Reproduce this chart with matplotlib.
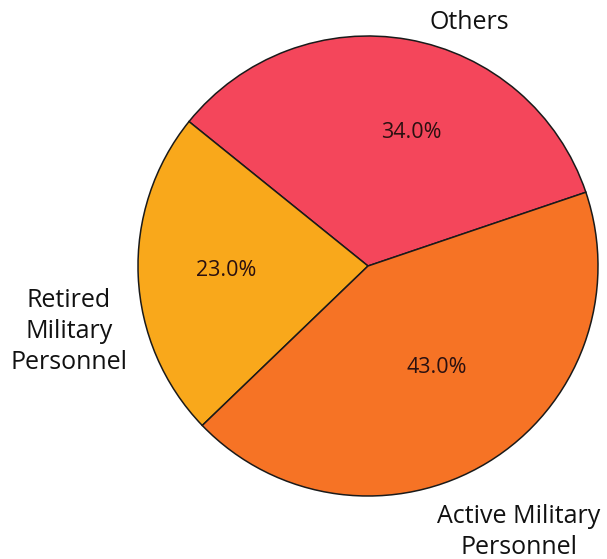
import matplotlib.pyplot as plt

labels = ["Others", "Retired\nMilitary\nPersonnel", "Active Military\nPersonnel"]
shares = [34.0, 23.0, 43.0]
colors = ["#F4465B", "#F9A81B", "#F67325"]

# where the outside labels and percentages sit (data units, radius = 1)
label_pos = [(0.44, 1.06), (-1.3, -0.285), (0.655, -1.157)]
pct_pos = [(0.19, 0.58), (-0.615, -0.02), (0.30, -0.44)]

plt.rcParams['font.family'] = ['Open Sans', 'DejaVu Sans']

fig = plt.figure(figsize=(6.07, 5.59), dpi=100)
# axes box covers exactly the circle: centre (368, 266) px, radius 230 px
ax = fig.add_axes([(368 - 230) / 607, (559 - 266 - 230) / 559, 460 / 607, 460 / 559])

wedges, texts, autotexts = ax.pie(shares, labels=labels, colors=colors, startangle=18.7,
                                  counterclock=True, autopct='%.1f%%',
                                  wedgeprops=dict(edgecolor='#1a1a1a', linewidth=1.1),
                                  textprops=dict(fontsize=18, color='#111111'))

for t, p in zip(texts, label_pos):
    t.set_position(p)
    t.set_ha('center')
    t.set_va('center')
    t.set_linespacing(1.32)

for t, p in zip(autotexts, pct_pos):
    t.set_position(p)
    t.set_fontsize(15.5)
    t.set_color('#2a1010')
    t.set_ha('center')
    t.set_va('center')

ax.set_xlim(-1, 1)
ax.set_ylim(-1, 1)
ax.set_aspect('auto')

plt.savefig("out.png")
